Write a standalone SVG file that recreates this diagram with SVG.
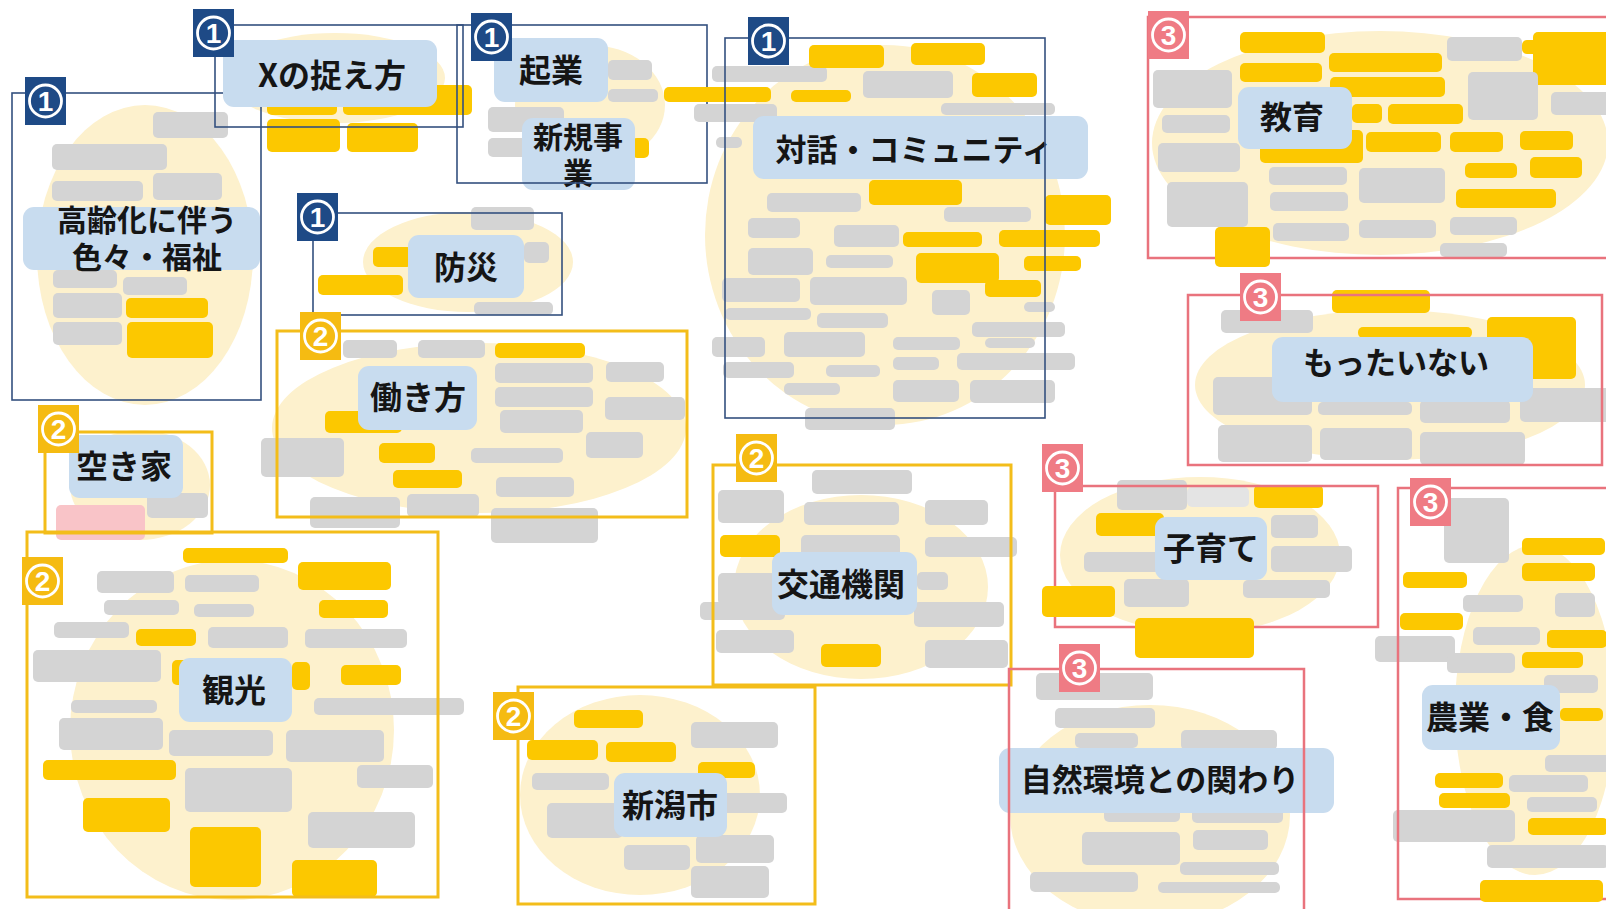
<svg xmlns="http://www.w3.org/2000/svg" xmlns:xlink="http://www.w3.org/1999/xlink" width="1606" height="909" viewBox="0 0 1606 909">
<style>
.bg{fill:#fff}
.blob{fill:#fdf1cd}
rect.g{fill:#d4d4d4;rx:5px}
rect.y{fill:#fcc800;rx:5px}
rect.p{fill:#f9c4c8;rx:5px}
rect.lbl{fill:#c8dcef;rx:11px}
.t{font-family:"Noto Sans CJK JP","Noto Sans CJK SC",sans-serif;font-weight:700;font-size:32px;fill:#151515;text-anchor:middle}
.fn{fill:none;stroke:#34507f;stroke-width:1.6}
.fy{fill:none;stroke:#f3bd1a;stroke-width:3}
.fp{fill:none;stroke:#e9737d;stroke-width:2.5}
.bn{fill:#1e4a86}
.by{fill:#f5bb12}
.bp{fill:#ef7b84}
.ring{fill:none;stroke:#fff;stroke-width:2.8}
.num{font-family:"Liberation Sans",Arial,sans-serif;font-size:28px;font-weight:700;fill:#fff;text-anchor:middle}
</style>
<defs>
<g id="b1"><rect class="bn" width="41" height="48"/><circle class="ring" cx="20.5" cy="24" r="16"/><text class="num" x="20.5" y="34">1</text></g>
<g id="b2"><rect class="by" width="41" height="48"/><circle class="ring" cx="20.5" cy="24" r="16"/><text class="num" x="20.5" y="34">2</text></g>
<g id="b3"><rect class="bp" width="41" height="48"/><circle class="ring" cx="20.5" cy="24" r="16"/><text class="num" x="20.5" y="34">3</text></g>
</defs>
<rect class="bg" x="0" y="0" width="1606" height="909"/>

<g id="blobs">
<ellipse class="blob" cx="145" cy="255" rx="108" ry="150"/>
<ellipse class="blob" cx="335" cy="78" rx="110" ry="45"/>
<ellipse class="blob" cx="590" cy="105" rx="75" ry="60"/>
<ellipse class="blob" cx="885" cy="235" rx="180" ry="190"/>
<ellipse class="blob" cx="468" cy="262" rx="105" ry="50"/>
<ellipse class="blob" cx="479" cy="428" rx="207" ry="85"/>
<ellipse class="blob" cx="140" cy="485" rx="70" ry="55"/>
<ellipse class="blob" cx="232" cy="730" rx="162" ry="170"/>
<ellipse class="blob" cx="861" cy="587" rx="127" ry="92"/>
<ellipse class="blob" cx="640" cy="795" rx="120" ry="100"/>
<ellipse class="blob" cx="1380" cy="143" rx="228" ry="112"/>
<ellipse class="blob" cx="1390" cy="385" rx="195" ry="75"/>
<ellipse class="blob" cx="1200" cy="555" rx="140" ry="78"/>
<ellipse class="blob" cx="1150" cy="815" rx="140" ry="110"/>
<ellipse class="blob" cx="1535" cy="710" rx="80" ry="165"/>
</g>

<g id="connectors"></g>

<g id="koureika">
<rect class="g" x="153" y="112" width="75" height="26"/>
<rect class="g" x="52" y="144" width="115" height="26"/>
<rect class="g" x="52" y="181" width="91" height="20"/>
<rect class="g" x="153" y="173" width="69" height="27"/>
<rect class="g" x="53" y="270" width="64" height="18"/>
<rect class="g" x="123" y="277" width="64" height="18"/>
<rect class="g" x="53" y="293" width="69" height="25"/>
<rect class="y" x="126" y="298" width="82" height="20"/>
<rect class="g" x="53" y="322" width="69" height="23"/>
<rect class="y" x="127" y="322" width="86" height="36"/>
<rect class="lbl" x="23" y="207" width="237" height="63"/>
<text class="t" style="font-size:30px"><tspan x="147" y="231">高齢化に伴う</tspan><tspan x="147" y="268">色々・福祉</tspan></text>
<rect class="fn" x="12" y="93" width="249" height="307"/>
<use xlink:href="#b1" x="25" y="77"/>
</g>

<g id="x-toraekata">
<rect class="y" x="267" y="95" width="70" height="20"/>
<rect class="y" x="343" y="85" width="129" height="30"/>
<rect class="y" x="267" y="119" width="73" height="33"/>
<rect class="y" x="347" y="123" width="71" height="29"/>
<rect class="lbl" x="223" y="40" width="214" height="67"/>
<text class="t" x="332" y="87">Xの捉え方</text>
<rect class="fn" x="215" y="25" width="248" height="102"/>
<use xlink:href="#b1" x="193" y="9"/>
</g>

<g id="kigyou">
<rect class="g" x="608" y="60" width="44" height="20"/>
<rect class="g" x="608" y="89" width="50" height="13"/>
<rect class="g" x="488" y="107" width="76" height="25"/>
<rect class="g" x="488" y="138" width="40" height="19"/>
<rect class="y" x="632" y="138" width="17" height="20"/>
<rect class="lbl" x="494" y="38" width="114" height="64"/>
<text class="t" x="551" y="82">起業</text>
<rect class="lbl" x="522" y="118" width="113" height="72"/>
<text class="t" style="font-size:30px"><tspan x="578" y="148">新規事</tspan><tspan x="578" y="184">業</tspan></text>
<rect class="fn" x="457" y="25" width="250" height="158"/>
<use xlink:href="#b1" x="471" y="13"/>
</g>

<g id="taiwa">
<rect class="y" x="664" y="87" width="107" height="15"/>
<rect class="g" x="712" y="66" width="115" height="16"/>
<rect class="g" x="694" y="104" width="83" height="18"/>
<rect class="g" x="716" y="137" width="26" height="11"/>
<rect class="y" x="809" y="45" width="75" height="23"/>
<rect class="y" x="911" y="43" width="74" height="22"/>
<rect class="g" x="863" y="71" width="90" height="27"/>
<rect class="y" x="972" y="73" width="65" height="24"/>
<rect class="y" x="791" y="90" width="60" height="12"/>
<rect class="g" x="941" y="103" width="114" height="12"/>
<rect class="y" x="869" y="180" width="93" height="25"/>
<rect class="g" x="767" y="193" width="94" height="19"/>
<rect class="g" x="944" y="207" width="87" height="15"/>
<rect class="y" x="1045" y="195" width="66" height="30"/>
<rect class="g" x="748" y="218" width="52" height="20"/>
<rect class="g" x="834" y="225" width="65" height="22"/>
<rect class="y" x="903" y="232" width="79" height="15"/>
<rect class="y" x="999" y="230" width="101" height="17"/>
<rect class="g" x="748" y="248" width="65" height="27"/>
<rect class="g" x="826" y="255" width="67" height="13"/>
<rect class="y" x="916" y="253" width="83" height="30"/>
<rect class="y" x="1024" y="256" width="57" height="15"/>
<rect class="g" x="722" y="278" width="78" height="24"/>
<rect class="g" x="810" y="277" width="97" height="28"/>
<rect class="y" x="985" y="280" width="56" height="17"/>
<rect class="g" x="932" y="290" width="38" height="25"/>
<rect class="g" x="1024" y="302" width="31" height="10"/>
<rect class="g" x="725" y="308" width="86" height="12"/>
<rect class="g" x="817" y="313" width="71" height="15"/>
<rect class="g" x="972" y="322" width="93" height="15"/>
<rect class="g" x="712" y="337" width="53" height="20"/>
<rect class="g" x="784" y="332" width="81" height="25"/>
<rect class="g" x="893" y="337" width="67" height="13"/>
<rect class="g" x="985" y="338" width="50" height="10"/>
<rect class="g" x="723" y="362" width="71" height="16"/>
<rect class="g" x="826" y="365" width="54" height="12"/>
<rect class="g" x="893" y="357" width="46" height="13"/>
<rect class="g" x="957" y="353" width="118" height="17"/>
<rect class="g" x="784" y="383" width="56" height="12"/>
<rect class="g" x="893" y="380" width="66" height="22"/>
<rect class="g" x="970" y="380" width="85" height="23"/>
<rect class="g" x="805" y="408" width="90" height="22"/>
<rect class="lbl" x="753" y="116" width="335" height="63"/>
<text class="t" x="914" y="161" style="font-size:31px">対話・コミュニティ</text>
<rect class="fn" x="725" y="38" width="320" height="380"/>
<use xlink:href="#b1" x="748" y="17"/>
</g>

<g id="bousai">
<rect class="g" x="471" y="207" width="63" height="23"/>
<rect class="y" x="373" y="247" width="39" height="20"/>
<rect class="y" x="318" y="275" width="85" height="20"/>
<rect class="g" x="524" y="242" width="25" height="21"/>
<rect class="g" x="474" y="302" width="79" height="13"/>
<rect class="lbl" x="408" y="235" width="116" height="63"/>
<text class="t" x="466" y="279">防災</text>
<rect class="fn" x="313" y="213" width="249" height="102"/>
<use xlink:href="#b1" x="297" y="193"/>
</g>

<g id="hatarakikata">
<rect class="g" x="343" y="340" width="54" height="18"/>
<rect class="g" x="418" y="340" width="67" height="18"/>
<rect class="y" x="495" y="343" width="90" height="15"/>
<rect class="g" x="495" y="363" width="98" height="20"/>
<rect class="g" x="606" y="362" width="58" height="20"/>
<rect class="g" x="495" y="387" width="98" height="20"/>
<rect class="g" x="605" y="397" width="80" height="23"/>
<rect class="g" x="500" y="410" width="83" height="23"/>
<rect class="y" x="325" y="411" width="77" height="22"/>
<rect class="g" x="261" y="438" width="83" height="39"/>
<rect class="y" x="379" y="443" width="56" height="20"/>
<rect class="g" x="471" y="448" width="92" height="15"/>
<rect class="y" x="393" y="470" width="69" height="18"/>
<rect class="g" x="496" y="477" width="78" height="20"/>
<rect class="g" x="586" y="432" width="57" height="26"/>
<rect class="g" x="310" y="497" width="90" height="31"/>
<rect class="g" x="407" y="494" width="72" height="23"/>
<rect class="g" x="491" y="508" width="107" height="35"/>
<rect class="lbl" x="358" y="366" width="119" height="64"/>
<text class="t" x="418" y="409">働き方</text>
<rect class="fy" x="277" y="331" width="410" height="186"/>
<use xlink:href="#b2" x="300" y="312"/>
</g>

<g id="akiya">
<rect class="g" x="147" y="493" width="61" height="25"/>
<rect class="p" x="56" y="505" width="89" height="35"/>
<rect class="lbl" x="69" y="435" width="114" height="63"/>
<text class="t" x="124" y="478">空き家</text>
<rect class="fy" x="45" y="432" width="167" height="101"/>
<use xlink:href="#b2" x="38" y="405"/>
</g>

<g id="kankou">
<rect class="y" x="183" y="548" width="105" height="15"/>
<rect class="y" x="298" y="562" width="93" height="28"/>
<rect class="g" x="97" y="571" width="77" height="22"/>
<rect class="g" x="185" y="575" width="74" height="17"/>
<rect class="g" x="104" y="600" width="75" height="15"/>
<rect class="g" x="194" y="604" width="60" height="13"/>
<rect class="y" x="319" y="600" width="69" height="18"/>
<rect class="g" x="54" y="622" width="75" height="16"/>
<rect class="y" x="136" y="629" width="60" height="17"/>
<rect class="g" x="208" y="627" width="80" height="21"/>
<rect class="g" x="305" y="629" width="102" height="19"/>
<rect class="g" x="33" y="650" width="128" height="32"/>
<rect class="y" x="172" y="660" width="20" height="25"/>
<rect class="y" x="292" y="662" width="18" height="28"/>
<rect class="y" x="341" y="665" width="60" height="20"/>
<rect class="g" x="71" y="700" width="86" height="13"/>
<rect class="g" x="314" y="698" width="150" height="17"/>
<rect class="g" x="59" y="718" width="104" height="32"/>
<rect class="g" x="169" y="730" width="104" height="26"/>
<rect class="g" x="286" y="730" width="98" height="32"/>
<rect class="y" x="43" y="760" width="133" height="20"/>
<rect class="g" x="357" y="765" width="76" height="23"/>
<rect class="g" x="185" y="768" width="107" height="44"/>
<rect class="y" x="83" y="798" width="87" height="34"/>
<rect class="g" x="308" y="812" width="107" height="36"/>
<rect class="y" x="190" y="827" width="71" height="60"/>
<rect class="y" x="292" y="860" width="85" height="37"/>
<rect class="lbl" x="179" y="658" width="113" height="64"/>
<text class="t" x="234" y="702">観光</text>
<rect class="fy" x="27" y="532" width="411" height="365"/>
<use xlink:href="#b2" x="22" y="557"/>
</g>

<g id="niigatashi">
<rect class="y" x="574" y="710" width="69" height="18"/>
<rect class="y" x="527" y="740" width="71" height="20"/>
<rect class="y" x="606" y="742" width="70" height="20"/>
<rect class="g" x="532" y="773" width="77" height="17"/>
<rect class="g" x="547" y="803" width="76" height="35"/>
<rect class="g" x="624" y="845" width="66" height="25"/>
<rect class="g" x="691" y="722" width="87" height="26"/>
<rect class="y" x="698" y="762" width="57" height="16"/>
<rect class="g" x="693" y="793" width="94" height="20"/>
<rect class="g" x="696" y="835" width="78" height="28"/>
<rect class="g" x="691" y="866" width="78" height="32"/>
<rect class="lbl" x="614" y="773" width="113" height="64"/>
<text class="t" x="670" y="817">新潟市</text>
<rect class="fy" x="518" y="687" width="297" height="217"/>
<use xlink:href="#b2" x="493" y="692"/>
</g>

<g id="koutsuukikan">
<rect class="g" x="812" y="470" width="100" height="24"/>
<rect class="g" x="718" y="490" width="66" height="33"/>
<rect class="g" x="804" y="502" width="95" height="23"/>
<rect class="g" x="925" y="500" width="63" height="25"/>
<rect class="y" x="720" y="535" width="60" height="22"/>
<rect class="g" x="801" y="535" width="99" height="23"/>
<rect class="g" x="925" y="537" width="92" height="20"/>
<rect class="g" x="718" y="573" width="58" height="32"/>
<rect class="g" x="917" y="572" width="31" height="18"/>
<rect class="g" x="700" y="602" width="85" height="18"/>
<rect class="g" x="914" y="602" width="90" height="25"/>
<rect class="g" x="716" y="630" width="78" height="23"/>
<rect class="y" x="821" y="644" width="60" height="23"/>
<rect class="g" x="925" y="640" width="83" height="28"/>
<rect class="lbl" x="772" y="552" width="145" height="63"/>
<text class="t" x="841" y="596">交通機関</text>
<rect class="fy" x="713" y="465" width="298" height="220"/>
<use xlink:href="#b2" x="736" y="434"/>
</g>

<g id="kyouiku">
<rect class="y" x="1240" y="32" width="85" height="21"/>
<rect class="y" x="1240" y="63" width="82" height="19"/>
<rect class="y" x="1329" y="53" width="113" height="19"/>
<rect class="y" x="1330" y="77" width="115" height="20"/>
<rect class="g" x="1447" y="37" width="75" height="24"/>
<rect class="y" x="1522" y="40" width="20" height="14"/>
<rect class="y" x="1533" y="32" width="78" height="53"/>
<rect class="g" x="1153" y="70" width="79" height="38"/>
<rect class="g" x="1468" y="72" width="70" height="48"/>
<rect class="g" x="1551" y="92" width="60" height="23"/>
<rect class="y" x="1352" y="104" width="30" height="19"/>
<rect class="y" x="1388" y="104" width="75" height="20"/>
<rect class="g" x="1162" y="115" width="68" height="18"/>
<rect class="y" x="1260" y="130" width="103" height="33"/>
<rect class="y" x="1366" y="132" width="75" height="20"/>
<rect class="y" x="1450" y="132" width="53" height="20"/>
<rect class="y" x="1520" y="131" width="53" height="19"/>
<rect class="g" x="1158" y="143" width="82" height="29"/>
<rect class="g" x="1269" y="167" width="78" height="18"/>
<rect class="y" x="1465" y="163" width="52" height="15"/>
<rect class="y" x="1530" y="157" width="52" height="21"/>
<rect class="g" x="1359" y="168" width="86" height="35"/>
<rect class="g" x="1167" y="182" width="81" height="45"/>
<rect class="g" x="1270" y="192" width="78" height="19"/>
<rect class="y" x="1456" y="189" width="100" height="19"/>
<rect class="g" x="1273" y="223" width="76" height="18"/>
<rect class="g" x="1359" y="220" width="77" height="18"/>
<rect class="g" x="1450" y="217" width="67" height="18"/>
<rect class="g" x="1440" y="243" width="67" height="14"/>
<rect class="lbl" x="1238" y="87" width="114" height="62"/>
<text class="t" x="1292" y="129">教育</text>
<rect class="fp" x="1148" y="17" width="470" height="241"/>
<rect class="y" x="1215" y="227" width="55" height="40"/>
<use xlink:href="#b3" x="1148" y="11"/>
</g>

<g id="mottainai">
<rect class="y" x="1332" y="290" width="98" height="23"/>
<rect class="g" x="1221" y="310" width="92" height="23"/>
<rect class="y" x="1358" y="327" width="114" height="11"/>
<rect class="y" x="1487" y="317" width="89" height="62"/>
<rect class="g" x="1213" y="377" width="99" height="38"/>
<rect class="g" x="1318" y="402" width="94" height="13"/>
<rect class="g" x="1420" y="400" width="90" height="23"/>
<rect class="g" x="1520" y="388" width="90" height="34"/>
<rect class="g" x="1218" y="425" width="94" height="37"/>
<rect class="g" x="1320" y="428" width="92" height="32"/>
<rect class="g" x="1420" y="432" width="105" height="33"/>
<rect class="lbl" x="1272" y="337" width="261" height="65"/>
<text class="t" x="1396" y="374" style="font-size:31px">もったいない</text>
<rect class="fp" x="1188" y="295" width="414" height="170"/>
<use xlink:href="#b3" x="1240" y="273"/>
</g>

<g id="kosodate">
<rect class="g" x="1117" y="480" width="70" height="30"/>
<rect class="g" x="1187" y="487" width="62" height="20" style="fill:#e4e4e4"/>
<rect class="y" x="1254" y="485" width="69" height="23"/>
<rect class="y" x="1096" y="513" width="68" height="23"/>
<rect class="g" x="1271" y="515" width="47" height="23"/>
<rect class="g" x="1084" y="552" width="78" height="20"/>
<rect class="g" x="1271" y="546" width="81" height="26"/>
<rect class="g" x="1124" y="579" width="65" height="28"/>
<rect class="g" x="1243" y="580" width="87" height="18"/>
<rect class="lbl" x="1155" y="517" width="112" height="63"/>
<text class="t" x="1211" y="560">子育て</text>
<rect class="fp" x="1055" y="486" width="323" height="141"/>
<rect class="y" x="1042" y="586" width="73" height="31"/>
<rect class="y" x="1135" y="618" width="119" height="40"/>
<use xlink:href="#b3" x="1042" y="444"/>
</g>

<g id="shizenkankyou">
<rect class="g" x="1036" y="673" width="117" height="27"/>
<rect class="g" x="1055" y="708" width="100" height="20"/>
<rect class="g" x="1075" y="733" width="63" height="15"/>
<rect class="g" x="1181" y="730" width="96" height="20"/>
<rect class="g" x="1104" y="808" width="76" height="14"/>
<rect class="g" x="1192" y="808" width="91" height="15"/>
<rect class="g" x="1082" y="832" width="98" height="33"/>
<rect class="g" x="1193" y="830" width="75" height="20"/>
<rect class="g" x="1180" y="862" width="99" height="13"/>
<rect class="g" x="1030" y="872" width="108" height="20"/>
<rect class="g" x="1158" y="882" width="122" height="11"/>
<rect class="lbl" x="999" y="748" width="335" height="65"/>
<text class="t" x="1160" y="791" style="font-size:31px">自然環境との関わり</text>
<rect class="fp" x="1009" y="669" width="295" height="245"/>
<use xlink:href="#b3" x="1059" y="644"/>
</g>

<g id="nougyou">
<rect class="g" x="1444" y="498" width="65" height="65"/>
<rect class="y" x="1522" y="538" width="83" height="17"/>
<rect class="y" x="1522" y="563" width="73" height="18"/>
<rect class="y" x="1403" y="572" width="64" height="16"/>
<rect class="g" x="1463" y="595" width="60" height="17"/>
<rect class="g" x="1555" y="593" width="40" height="24"/>
<rect class="y" x="1400" y="613" width="63" height="17"/>
<rect class="g" x="1473" y="627" width="67" height="18"/>
<rect class="y" x="1547" y="630" width="60" height="18"/>
<rect class="g" x="1375" y="636" width="80" height="26"/>
<rect class="g" x="1447" y="653" width="68" height="20"/>
<rect class="y" x="1522" y="652" width="61" height="16"/>
<rect class="g" x="1544" y="675" width="54" height="18"/>
<rect class="y" x="1560" y="708" width="43" height="13"/>
<rect class="g" x="1545" y="755" width="65" height="17"/>
<rect class="y" x="1435" y="773" width="68" height="15"/>
<rect class="g" x="1509" y="775" width="79" height="17"/>
<rect class="y" x="1439" y="793" width="71" height="15"/>
<rect class="g" x="1527" y="797" width="70" height="15"/>
<rect class="g" x="1393" y="810" width="122" height="32"/>
<rect class="y" x="1528" y="818" width="80" height="17"/>
<rect class="g" x="1487" y="845" width="122" height="23"/>
<rect class="lbl" x="1422" y="685" width="138" height="65"/>
<text class="t" x="1490" y="729">農業・食</text>
<rect class="fp" x="1398" y="488" width="215" height="411"/>
<rect class="y" x="1480" y="880" width="123" height="22"/>
<use xlink:href="#b3" x="1410" y="478"/>
</g>
</svg>
